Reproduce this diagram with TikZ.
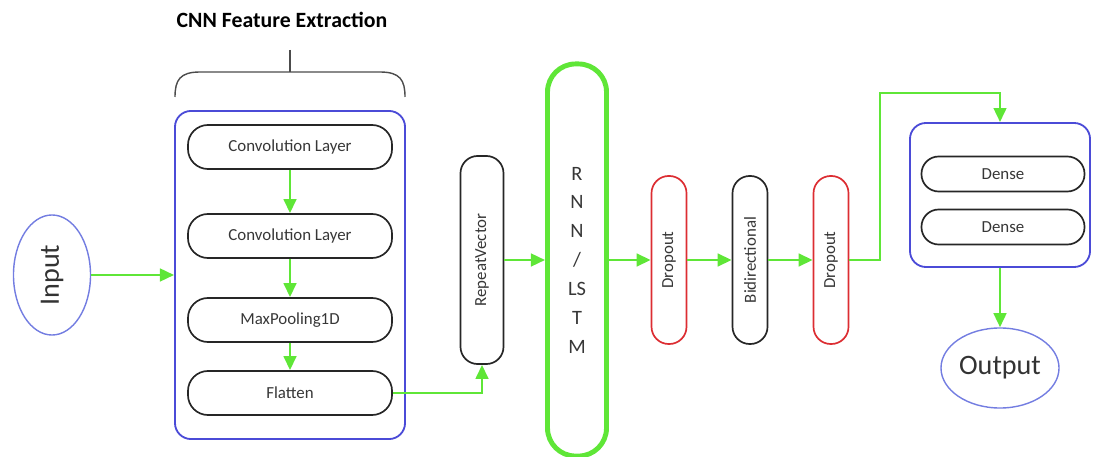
\documentclass[tikz,border=0pt]{standalone}
\usepackage{fontspec}
\setmainfont{Carlito}
\usetikzlibrary{shapes.geometric,arrows.meta}

\definecolor{flowgreen}{RGB}{95,230,55}
\definecolor{boxblue}{RGB}{75,75,215}
\definecolor{ovalblue}{RGB}{115,125,225}
\definecolor{dropred}{RGB}{220,45,50}
\definecolor{labelgrey}{RGB}{55,55,55}

\begin{document}
\begin{tikzpicture}[x=0.025cm, y=-0.025cm,
		layer/.style={draw=black!85, line width=1.2pt, rounded corners=0.5cm, minimum width=5.1cm, minimum height=1.1cm, inner sep=0pt, font=\fontsize{12}{14}\selectfont, text=labelgrey},
		pill/.style={draw=black!85, line width=1.2pt, rounded corners=0.43cm, rotate=90, minimum width=4.2cm, minimum height=0.875cm, inner sep=0pt, font=\fontsize{12}{14}\selectfont, text=labelgrey},
		group/.style={draw=boxblue, line width=1.3pt, rounded corners=0.4cm, inner sep=0pt},
		oval/.style={ellipse, draw=ovalblue, line width=1pt, inner sep=0pt, font=\fontsize{20}{24}\selectfont, text=black!80},
		flow/.style={flowgreen, line width=1.8pt, -{Triangle[length=10pt,width=9pt]}}
	]
	\useasboundingbox (0,0) rectangle (1095,457);

	% CNN block with its brace and title
	\node[font=\fontsize{15.5}{18}\selectfont\bfseries] (title) at (282,20) {CNN Feature Extraction};
	\draw[black!70, line width=1pt] (175,97) .. controls (175,80) and (180,72) .. (200,72) -- (380,72) .. controls (400,72) and (405,80) .. (405,97);
	\draw[black!70, line width=1pt] (290,50) -- (290,72);

	\node[group, minimum width=5.75cm, minimum height=8.2cm] (cnn) at (290,275) {};
	\node[layer] (conv1) at (290,147) {Convolution Layer};
	\node[layer] (conv2) at (290,236) {Convolution Layer};
	\node[layer] (pool) at (290,320) {MaxPooling1D};
	\node[layer] (flat) at (290,393) {Flatten};

	% input
	\node[oval, minimum width=1.925cm, minimum height=3cm] (input) at (52,275) {\rotatebox{90}{Input}};

	% recurrent part
	\node[pill, minimum width=5.2cm, minimum height=1.075cm] (rv) at (482,260) {RepeatVector};
	\node[draw=flowgreen, line width=3.5pt, rounded corners=0.7cm, minimum width=1.475cm, minimum height=9.8cm, align=center, font=\fontsize{14.5}{20.5}\selectfont, text=labelgrey] (rnn) at (577,260) {R\\N\\N\\/\\LS\\T\\M};
	\node[pill, draw=dropred] (do1) at (669,260) {Dropout};
	\node[pill] (bi) at (750,260) {Bidirectional};
	\node[pill, draw=dropred] (do2) at (831,260) {Dropout};

	% dense block and output
	\node[group, minimum width=4.5cm, minimum height=3.6cm] (dbox) at (1000,195) {};
	\node[layer, minimum width=4.075cm, minimum height=0.875cm, rounded corners=0.43cm] (d1) at (1003,174) {Dense};
	\node[layer, minimum width=4.075cm, minimum height=0.875cm, rounded corners=0.43cm] (d2) at (1003,227) {Dense};
	\node[oval, minimum width=2.95cm, minimum height=2cm] (out) at (1000,368) {Output};

	% connections
	\draw[flow] (input) -- (cnn);
	\draw[flow] (conv1) -- (conv2);
	\draw[flow] (conv2) -- (pool);
	\draw[flow] (pool) -- (flat);
	\draw[flow] (flat.east) -| (rv);
	\draw[flow] (rv) -- (rnn);
	\draw[flow] (rnn) -- (do1);
	\draw[flow] (do1) -- (bi);
	\draw[flow] (bi) -- (do2);
	\coordinate (bend) at (880,93);
	\draw[flow] (do2) -| (bend) -| (dbox.north);
	\draw[flow] (dbox) -- (out);
\end{tikzpicture}
\end{document}
